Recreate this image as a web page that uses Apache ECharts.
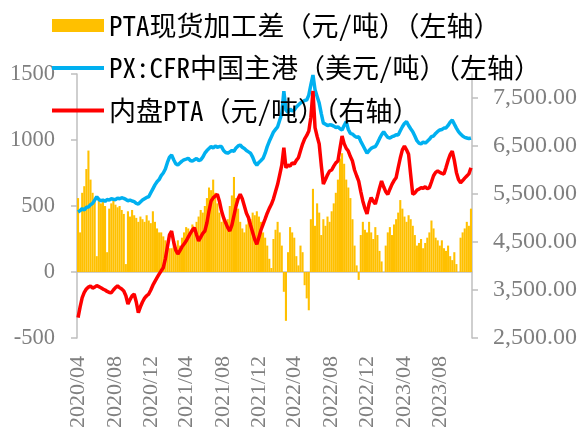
<!DOCTYPE html>
<html><head><meta charset="utf-8">
<script src="https://cdn.jsdelivr.net/npm/echarts@6/dist/echarts.min.js"></script>
<style>html,body{margin:0;padding:0;background:#fff}#c{width:579px;height:430px}</style>
</head><body><div id="c"></div>
<script>
// weekly observations (Fridays) starting 2020-04-03
const startDate = '2020-04-03';
const weekCount = 190;
const labelMonths = [4, 8, 12];
const leftTicks = [-500, 0, 500, 1000, 1500];
const rightTicks = [2500, 3500, 4500, 5500, 6500, 7500];
const seriesNames = ['PTA现货加工差（元/吨）（左轴）', 'PX:CFR中国主港（美元/吨）（左轴）', '内盘PTA（元/吨）（右轴）'];

const spread = [
560,300,600,650,780,920,700,600,540,120,
560,520,540,500,150,480,520,540,510,490,
500,470,440,60,460,420,470,430,410,380,
420,400,380,430,390,370,460,380,330,300,
300,270,240,200,180,180,220,190,240,200,
260,300,340,330,300,360,340,380,420,470,
450,500,560,640,620,700,600,520,450,380,
420,360,400,500,580,720,560,480,380,330,
300,360,420,400,450,430,460,420,380,300,
260,200,100,30,250,320,380,300,200,-150,
-370,150,340,300,260,120,50,200,150,-100,
-200,-290,400,630,350,520,450,280,400,350,
420,380,460,520,600,700,860,900,820,700,
640,560,400,200,50,-60,280,380,320,300,
380,300,250,340,280,160,80,0,200,300,
340,280,360,400,450,545,480,420,380,430,
400,350,280,200,220,250,180,220,260,300,
390,330,260,240,200,240,180,160,200,120,
90,150,60,0,260,300,330,380,350,480];

const px = [
455,465,480,470,490,492,510,520,545,570,
550,540,545,535,550,545,555,551,548,560,
555,562,558,550,540,545,538,533,520,515,
530,545,555,565,570,600,630,660,684,700,
730,750,780,830,870,886,850,820,810,825,
840,850,855,861,845,840,850,860,845,850,
870,900,920,935,950,940,955,945,950,950,
920,905,900,910,920,915,940,955,962,945,
935,920,910,900,870,830,810,830,845,861,
900,950,990,1025,1060,1080,1100,1150,1200,1370,
1227,1210,1235,1220,1227,1250,1265,1280,1290,1300,
1303,1340,1420,1492,1380,1330,1280,1200,1128,1120,
1110,1115,1113,1105,1095,1100,1085,1076,1110,1139,
1080,1050,1045,1030,1020,1025,990,960,930,900,
920,937,945,950,977,1010,1040,1063,1040,1020,
1015,1025,1030,1040,1038,1070,1100,1125,1139,1110,
1085,1063,1030,995,977,970,985,977,990,1005,
1025,1030,1050,1065,1076,1080,1090,1091,1110,1135,
1151,1120,1090,1063,1045,1030,1020,1015,1010,1015];

const pta = [
2923,3150,3340,3450,3520,3560,3583,3540,3560,3590,
3570,3548,3520,3500,3470,3450,3444,3500,3550,3583,
3550,3520,3479,3380,3208,3300,3380,3416,3250,3028,
3150,3250,3330,3380,3416,3500,3600,3680,3756,3830,
3900,3965,4150,4400,4650,4729,4500,4330,4250,4320,
4400,4460,4520,4600,4680,4750,4798,4650,4520,4600,
4680,4729,4900,5150,5354,5420,5460,5493,5350,5150,
5006,4900,4800,4729,4850,5050,5250,5400,5493,5400,
5250,5100,5006,4850,4700,4550,4452,4600,4750,4868,
4980,5100,5200,5285,5400,5550,5702,5900,6100,6464,
6048,6100,6080,6150,6125,6200,6256,6400,6541,6650,
6720,6812,7100,7646,6881,6700,6541,6100,5708,5800,
5900,5979,6000,6080,6150,6187,6450,6708,6550,6450,
6395,6280,6187,6000,5880,5770,5550,5350,5200,5083,
5300,5423,5350,5291,5450,5620,5770,5650,5550,5493,
5600,5700,5780,5840,6050,6250,6420,6500,6420,6326,
5900,5493,5520,5580,5600,5631,5620,5650,5610,5631,
5750,5880,5950,5979,5950,5930,5916,6050,6200,6320,
6395,6200,5950,5800,5736,5780,5830,5875,5920,6048];

// category axis: weekly dates
const categories = [];
const labelIdx = new Set();
const d0 = new Date(startDate + 'T00:00:00Z');
let prevMonth = -1;
for (let i = 0; i < weekCount; i++) {
  const d = new Date(d0.getTime() + i * 7 * 86400000);
  const m = d.getUTCMonth() + 1;
  categories.push(d.getUTCFullYear() + '/' + String(m).padStart(2, '0') + '/' + String(d.getUTCDate()).padStart(2, '0'));
  if (m !== prevMonth && labelMonths.indexOf(m) >= 0) labelIdx.add(i);
  prevMonth = m;
}

const grey = '#bfbfbf';
const labelGrey = '#7f7f7f';
const serif = 'Liberation Serif';
const fmtRight = v => String(v).replace(/\B(?=(\d{3})+(?!\d))/g, ',') + '.00';
const lineIcon = 'path://M0,0L52,0L52,4L0,4Z';

const chart = echarts.init(document.getElementById('c'), null, {renderer: 'canvas'});
chart.setOption({
  animation: false,
  grid: {left: 77, right: 107, top: 74, bottom: 92, containLabel: false, outerBoundsMode: 'none'},
  legend: {
    orient: 'vertical', left: 52, top: 10.5, padding: 0, itemWidth: 52, itemHeight: 13, itemGap: 12.5,
    textStyle: {fontFamily: '"Noto Sans Mono CJK SC", "Noto Sans CJK SC"', fontSize: 27, color: '#000', lineHeight: 30},
    data: [{name: seriesNames[0], icon: 'rect'}, {name: seriesNames[1], icon: lineIcon}, {name: seriesNames[2], icon: lineIcon}]
  },
  xAxis: {
    type: 'category', data: categories,
    axisLine: {onZero: true, onZeroAxisIndex: 0, lineStyle: {color: grey, width: 1.5}},
    axisTick: {alignWithLabel: true, interval: i => labelIdx.has(i), length: 6, lineStyle: {color: grey, width: 1.5}},
    axisLabel: {interval: i => labelIdx.has(i), rotate: 90, margin: 18, fontFamily: serif, fontSize: 22, color: labelGrey,
      formatter: v => v.slice(0, 7)},
    splitLine: {show: false}
  },
  yAxis: [
    {type: 'value', min: leftTicks[0], max: leftTicks[leftTicks.length - 1], interval: 500, position: 'left',
     axisLine: {show: true, lineStyle: {color: grey, width: 1.5}},
     axisTick: {show: true, length: 6, lineStyle: {color: grey, width: 1.5}},
     axisLabel: {margin: 22, fontFamily: serif, fontSize: 22.5, color: labelGrey, formatter: v => String(v)},
     splitLine: {show: false}},
    {type: 'value', min: 2500, max: 8000, position: 'right',
     axisLine: {show: true, lineStyle: {color: grey, width: 1.5}},
     axisTick: {show: true, length: 6, customValues: rightTicks, lineStyle: {color: grey, width: 1.5}},
     axisLabel: {margin: 21, fontFamily: serif, fontSize: 24, color: labelGrey, customValues: rightTicks, formatter: fmtRight},
     splitLine: {show: false}}
  ],
  series: [
    {name: seriesNames[0], type: 'bar', data: spread, yAxisIndex: 0, barCategoryGap: '0%', itemStyle: {color: '#FFC000'}, z: 1},
    {name: seriesNames[1], type: 'line', data: px, yAxisIndex: 0, symbol: 'none', lineStyle: {color: '#00B0F0', width: 3.5}, itemStyle: {color: '#00B0F0'}, z: 3},
    {name: seriesNames[2], type: 'line', data: pta, yAxisIndex: 1, symbol: 'none', lineStyle: {color: '#FF0000', width: 3.5}, itemStyle: {color: '#FF0000'}, z: 4}
  ]
});
</script>
</body></html>
